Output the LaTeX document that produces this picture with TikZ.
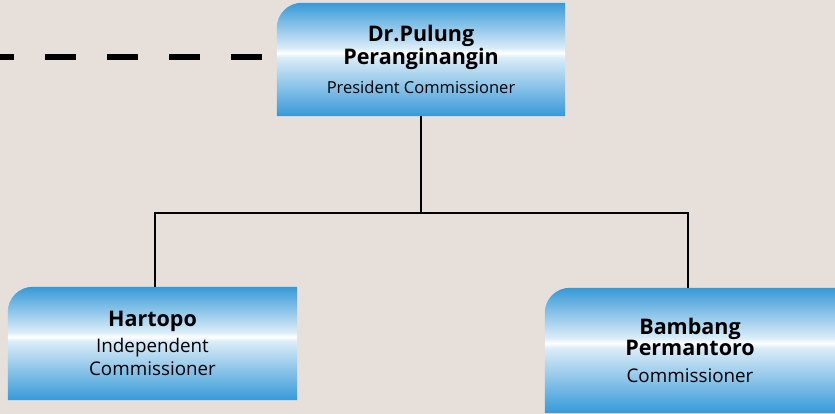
\documentclass[tikz,border=0pt]{standalone}
\usepackage{fontspec}
\setmainfont{Open Sans}
\usepackage{xcolor}
\usetikzlibrary{positioning,calc,backgrounds}

\definecolor{pagebg}{HTML}{E7DFD9}
\definecolor{boxblue}{HTML}{3699D8}
\pgfdeclareverticalshading{boxshade}{100bp}{color(0bp)=(boxblue); color(25bp)=(boxblue);
    color(51bp)=(boxblue!18!white); color(53bp)=(white); color(55bp)=(boxblue!18!white);
    color(75bp)=(boxblue); color(100bp)=(boxblue)}

\newcommand{\namefont}{\fontsize{21.5}{25}\selectfont\bfseries}
\newcommand{\rolefont}{\fontsize{16.5}{24}\selectfont\mdseries}
\newcommand{\lowrolefont}{\fontsize{18.8}{24}\selectfont\mdseries}

\begin{document}
\begin{tikzpicture}[
    x=1pt, y=-1pt,
    person/.style={align=center, inner sep=0pt, minimum width=288pt, minimum height=113pt},
    link/.style={draw=black, line width=2pt},
    dashline/.style={draw=black, line width=5.5pt, dash pattern=on 31pt off 31pt}
]
    \useasboundingbox (0,0) rectangle (835,414);

    % people
    \node[person] (pres) at (421,59.5) {\namefont Dr.Pulung\\\namefont Peranginangin\\[10pt]\rolefont President Commissioner};
    \node[person, minimum width=289pt] (hart) at (152.5,343.5) {\namefont Hartopo\\[5pt]\lowrolefont Independent\\[4pt]\lowrolefont Commissioner};
    \node[person, minimum width=290pt, minimum height=125pt] (bamb) at (690,350.5) {\namefont Bambang\\\namefont Permantoro\\[12pt]\lowrolefont Commissioner};

    % boxes behind the text
    \begin{scope}[on background layer]
        \fill[pagebg] (0,0) rectangle (835,414);
        \foreach \n in {pres,hart,bamb}
            \shade[shading=boxshade]
                (\n.south west) [rounded corners=25pt] -- (\n.north west) [sharp corners] -- (\n.north east) -- (\n.south east) -- cycle;
    \end{scope}

    % connectors
    \coordinate (split) at (421,213);
    \coordinate (farleft) at (-5,57);
    \draw[link] (pres.south) -- (split);
    \draw[link] ([xshift=2.5pt]hart.north) |- (split) -| ([xshift=-2pt]bamb.north);
    \draw[dashline] ([xshift=-15pt,yshift=2.5pt]pres.west) -- (farleft);
\end{tikzpicture}
\end{document}
